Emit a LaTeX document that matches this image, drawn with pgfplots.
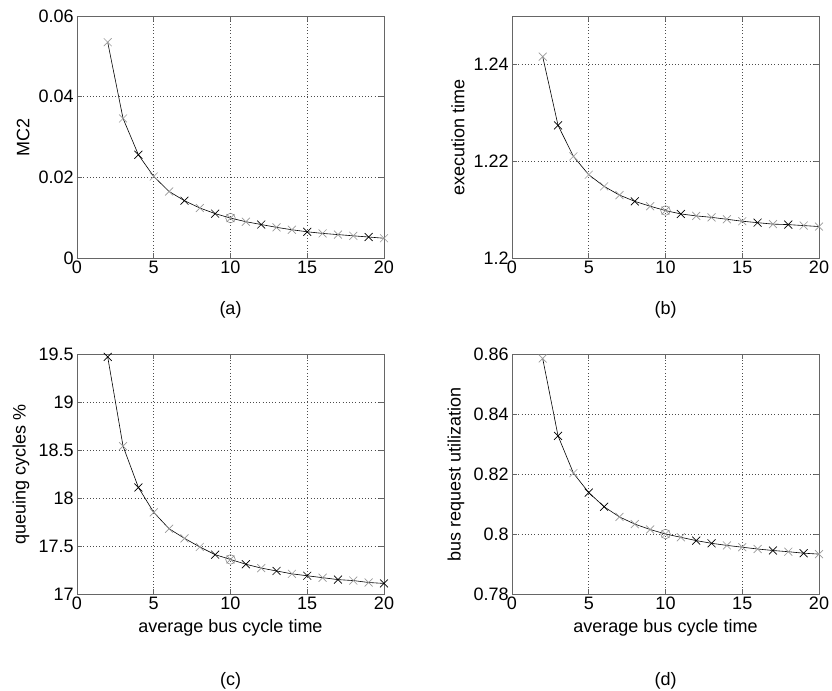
\documentclass[border=0pt]{standalone}
\usepackage{pgfplots}
\pgfplotsset{compat=1.18}
\usepackage{pgfplotstable}
\usepackage{fontspec}
\setmainfont{Liberation Sans}

\pgfplotstableread{
x y c
2 0.0535 g
3 0.0346 g
4 0.0256 b
5 0.0202 g
6 0.0165 g
7 0.0142 b
8 0.0124 g
9 0.0110 b
10 0.0099 g
11 0.0090 g
12 0.0083 b
13 0.0076 g
14 0.0070 g
15 0.0065 b
16 0.0061 g
17 0.0058 g
18 0.0055 g
19 0.0052 b
20 0.0049 g
}\tabA
\pgfplotstableread{
x y c
2 1.2416 g
3 1.2274 b
4 1.2210 g
5 1.2172 g
6 1.2148 g
7 1.2130 g
8 1.2117 b
9 1.2107 g
10 1.2098 g
11 1.2091 b
12 1.2087 g
13 1.2084 g
14 1.2080 g
15 1.2076 g
16 1.2073 b
17 1.2070 g
18 1.2069 b
19 1.2067 g
20 1.2065 g
}\tabB
\pgfplotstableread{
x y c
2 19.47 b
3 18.54 g
4 18.11 b
5 17.85 g
6 17.68 g
7 17.58 g
8 17.49 g
9 17.41 b
10 17.36 g
11 17.31 b
12 17.27 g
13 17.24 b
14 17.21 g
15 17.19 b
16 17.17 g
17 17.15 b
18 17.14 g
19 17.12 g
20 17.11 b
}\tabC
\pgfplotstableread{
x y c
2 0.8585 g
3 0.8327 b
4 0.8203 g
5 0.8138 b
6 0.8091 b
7 0.8057 g
8 0.8033 g
9 0.8015 g
10 0.8000 g
11 0.7989 g
12 0.7978 b
13 0.7969 b
14 0.7962 g
15 0.7956 g
16 0.7950 g
17 0.7945 b
18 0.7941 g
19 0.7936 b
20 0.7933 g
}\tabD

\newcommand\ff{\fontsize{13.5}{15}\selectfont}
\pgfplotsset{
  myax/.style={
    scale only axis, width=230.25pt,
    xmin=0, xmax=20, xtick={0,5,10,15,20}, xticklabels={0,5,10,15,20},
    scaled x ticks=false, scaled y ticks=false,
    grid=major, major grid style={black!70, dotted, line width=0.5pt},
    axis line style={black!60, line width=0.6pt},
    tick style={black!60, line width=0.5pt},
    tick align=inside, major tick length=3.5pt,
    tick label style={font=\ff},
    label style={font=\ff},
    xticklabel style={yshift=1pt},
    yticklabel style={xshift=1pt},
    clip=false, anchor=north west,
  },
  myplot/.style={
    black, line width=0.45pt, scatter, scatter src=explicit symbolic,
    mark size=4.2pt,
    scatter/classes={
      g={mark=x, draw=black!40, line width=0.5pt},
      b={mark=x, draw=black, line width=0.5pt}
    }
  }
}

\begin{document}
\begin{tikzpicture}
\useasboundingbox (0,0) rectangle (624pt,-517.5pt);

% (a)
\begin{axis}[myax, at={(57.75pt,-12pt)}, height=181.5pt,
  ymin=0, ymax=0.06, ytick={0,0.02,0.04,0.06}, yticklabels={0,0.02,0.04,0.06},
  ylabel={MC2}]
\addplot[myplot] table[x=x, y=y, meta=c] {\tabA};
\addplot[only marks, mark=o, mark size=3.6pt, black!50] coordinates {(10,0.0099)};
\node[font=\ff] at (rel axis cs:0.5,0) [yshift=-39pt] {(a)};
\end{axis}

% (b)
\begin{axis}[myax, at={(384pt,-12pt)}, height=181.5pt,
  ymin=1.2, ymax=1.25, ytick={1.2,1.22,1.24}, yticklabels={1.2,1.22,1.24},
  ylabel={execution time}]
\addplot[myplot] table[x=x, y=y, meta=c] {\tabB};
\addplot[only marks, mark=o, mark size=3.6pt, black!50] coordinates {(10,1.2098)};
\node[font=\ff] at (rel axis cs:0.5,0) [yshift=-39pt] {(b)};
\end{axis}

% (c)
\begin{axis}[myax, at={(57.75pt,-265.5pt)}, height=180pt,
  ymin=17, ymax=19.5, ytick={17,17.5,18,18.5,19,19.5}, yticklabels={17,17.5,18,18.5,19,19.5},
  ylabel={queuing cycles \%}, xlabel={average bus cycle time}]
\addplot[myplot] table[x=x, y=y, meta=c] {\tabC};
\addplot[only marks, mark=o, mark size=3.6pt, black!50] coordinates {(10,17.36)};
\node[font=\ff] at (rel axis cs:0.5,0) [yshift=-65pt] {(c)};
\end{axis}

% (d)
\begin{axis}[myax, at={(384pt,-265.5pt)}, height=180pt,
  ymin=0.78, ymax=0.86, ytick={0.78,0.8,0.82,0.84,0.86}, yticklabels={0.78,0.8,0.82,0.84,0.86},
  ylabel={bus request utilization}, xlabel={average bus cycle time}]
\addplot[myplot] table[x=x, y=y, meta=c] {\tabD};
\addplot[only marks, mark=o, mark size=3.6pt, black!50] coordinates {(10,0.8000)};
\node[font=\ff] at (rel axis cs:0.5,0) [yshift=-65pt] {(d)};
\end{axis}
\end{tikzpicture}
\end{document}
